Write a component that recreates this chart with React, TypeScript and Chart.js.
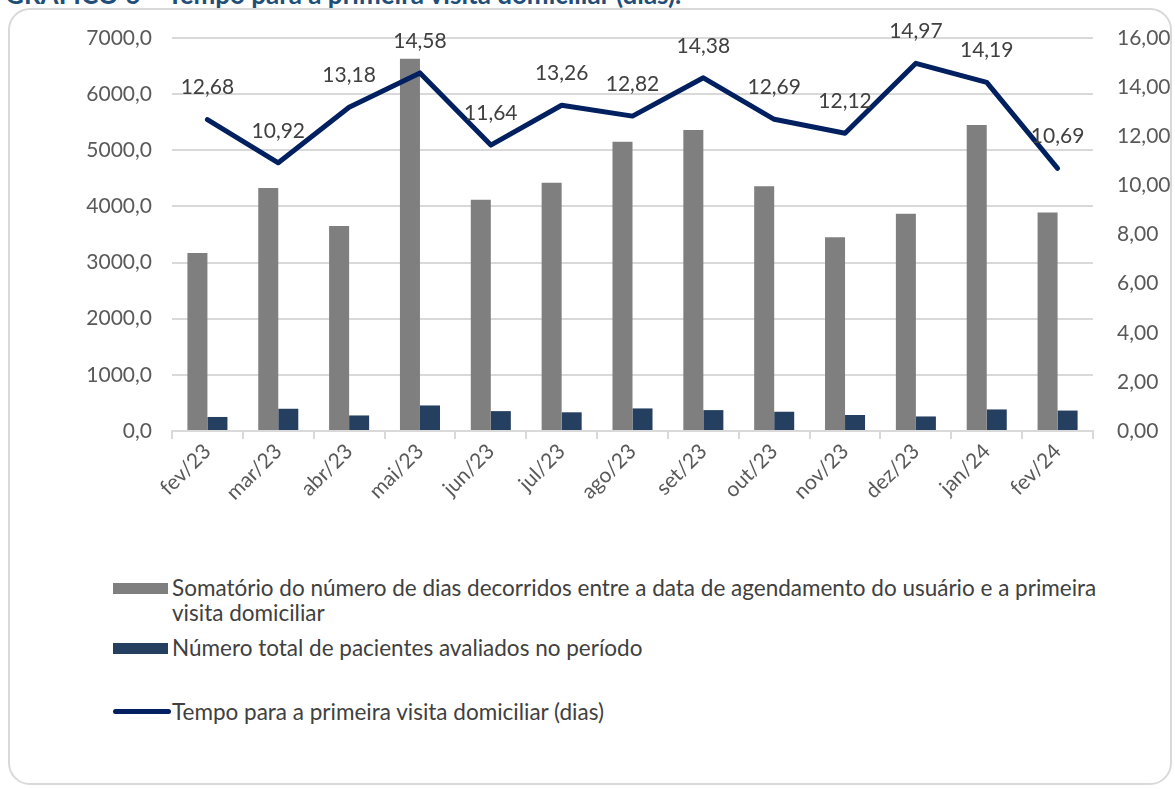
import React, { useEffect, useRef } from "react";
import { Chart, registerables } from "chart.js";

Chart.register(...registerables);

const categories = ["fev/23", "mar/23", "abr/23", "mai/23", "jun/23", "jul/23", "ago/23", "set/23", "out/23", "nov/23", "dez/23", "jan/24", "fev/24"];
const somatorioDias = [3170, 4330, 3650, 6630, 4120, 4420, 5150, 5360, 4360, 3450, 3870, 5450, 3890];
const pacientesAvaliados = [250, 396, 277, 455, 354, 333, 402, 372, 343, 285, 259, 384, 364];
const tempoPrimeiraVisita = [12.68, 10.92, 13.18, 14.58, 11.64, 13.26, 12.82, 14.38, 12.69, 12.12, 14.97, 14.19, 10.69];

const leftAxisMax = 7000;
const leftAxisStep = 1000;
const rightAxisMax = 16;
const rightAxisStep = 2;

const titleText = "GRÁFICO 6 – Tempo para a primeira visita domiciliar (dias).";
const legendSomatorio1 = "Somatório do número de dias decorridos entre a data de agendamento do usuário e a primeira";
const legendSomatorio2 = "visita domiciliar";
const legendPacientes = "Número total de pacientes avaliados no período";
const legendTempo = "Tempo para a primeira visita domiciliar (dias)";

const FONT = "Lato, 'Noto Sans', sans-serif";
const TEXT = "#595959";
const GREY = "#7F7F7F";
const NAVY_BAR = "#243F60";
const NAVY_LINE = "#002060";
const GRID = "#D9D9D9";

const W = 1175;
const H = 560;

const labelPlugin = {
  id: "lineLabels",
  afterDatasetsDraw(chart: any) {
    const ctx = chart.ctx;
    chart.data.datasets.forEach((ds: any, i: number) => {
      if (ds.type !== "line") return;
      const meta = chart.getDatasetMeta(i);
      ctx.save();
      ctx.font = `21px ${FONT}`;
      ctx.fillStyle = "#404040";
      ctx.textAlign = "center";
      ctx.textBaseline = "middle";
      meta.data.forEach((pt: any, j: number) => {
        const v = ds.data[j] as number;
        ctx.fillText(v.toFixed(2).replace(".", ","), pt.x, pt.y - 32);
      });
      ctx.restore();
    });
  },
};

export default function App() {
  const ref = useRef<HTMLCanvasElement | null>(null);

  useEffect(() => {
    if (!ref.current) return;
    const chart = new Chart(ref.current, {
      type: "bar",
      data: {
        labels: categories,
        datasets: [
          {
            type: "line",
            label: legendTempo,
            data: tempoPrimeiraVisita,
            yAxisID: "y1",
            borderColor: NAVY_LINE,
            backgroundColor: NAVY_LINE,
            borderWidth: 5,
            pointRadius: 0,
            tension: 0,
            borderCapStyle: "round",
            borderJoinStyle: "round",
            order: 0,
          } as any,
          {
            type: "bar",
            label: legendSomatorio1 + " " + legendSomatorio2,
            data: somatorioDias,
            yAxisID: "y",
            backgroundColor: GREY,
            barPercentage: 1,
            categoryPercentage: 0.565,
            order: 1,
          },
          {
            type: "bar",
            label: legendPacientes,
            data: pacientesAvaliados,
            yAxisID: "y",
            backgroundColor: NAVY_BAR,
            barPercentage: 1,
            categoryPercentage: 0.565,
            order: 1,
          },
        ],
      },
      options: {
        responsive: false,
        animation: false,
        devicePixelRatio: 1,
        layout: { padding: { top: 38, left: 0, right: 0, bottom: 0 } },
        plugins: {
          legend: { display: false },
          title: { display: false },
          tooltip: { enabled: false },
        },
        scales: {
          x: {
            offset: true,
            grid: {
              display: true,
              drawOnChartArea: false,
              drawTicks: true,
              tickLength: 8,
              color: GRID,
              lineWidth: 2,
              offset: true,
            },
            border: { display: true, color: GRID, width: 2 },
            ticks: {
              color: TEXT,
              font: { family: FONT, size: 21 },
              minRotation: 45,
              maxRotation: 45,
              padding: 0,
              autoSkip: false,
            },
            afterFit(scale: any) {
              scale.height = H - 431;
            },
          },
          y: {
            position: "left",
            min: 0,
            max: leftAxisMax,
            ticks: {
              stepSize: leftAxisStep,
              color: TEXT,
              font: { family: FONT, size: 21 },
              padding: 20,
              callback: (v: any) => Number(v).toFixed(1).replace(".", ","),
            },
            grid: { color: GRID, lineWidth: 2, drawTicks: false },
            border: { display: false },
            afterFit(scale: any) {
              scale.width = 172;
            },
          },
          y1: {
            position: "right",
            min: 0,
            max: rightAxisMax,
            ticks: {
              stepSize: rightAxisStep,
              color: TEXT,
              font: { family: FONT, size: 21 },
              padding: 24,
              callback: (v: any) => Number(v).toFixed(2).replace(".", ","),
            },
            grid: { drawOnChartArea: false, drawTicks: false },
            border: { display: false },
            afterFit(scale: any) {
              scale.width = W - 1093;
            },
          },
        },
      },
      plugins: [labelPlugin],
    });
    return () => chart.destroy();
  }, []);

  const legendText: React.CSSProperties = {
    position: "absolute",
    left: 172,
    fontFamily: FONT,
    fontSize: 22.5,
    color: "#404040",
    whiteSpace: "nowrap",
    lineHeight: "24px",
  };

  return (
    <div style={{ position: "fixed", left: 0, top: 0, width: W, height: 789, overflow: "hidden", background: "#fff" }}>
      <div
        style={{
          position: "absolute",
          left: 5,
          top: -19,
          fontFamily: FONT,
          fontWeight: 700,
          fontSize: 26,
          lineHeight: "26px",
          color: "#1F4E79",
          whiteSpace: "nowrap",
        }}
      >
        {titleText}
      </div>
      <div
        style={{
          position: "absolute",
          left: 8,
          top: 8,
          width: 1164,
          height: 777,
          boxSizing: "border-box",
          border: `2px solid ${GRID}`,
          borderRadius: 22,
        }}
      />
      <canvas ref={ref} width={W} height={H} style={{ position: "absolute", left: 0, top: 0, width: W, height: H }} />
      <div style={{ position: "absolute", left: 113, top: 583, width: 55, height: 11, background: GREY }} />
      <div style={{ ...legendText, top: 576 }}>{legendSomatorio1}</div>
      <div style={{ ...legendText, top: 601 }}>{legendSomatorio2}</div>
      <div style={{ position: "absolute", left: 113, top: 643, width: 55, height: 11, background: NAVY_BAR }} />
      <div style={{ ...legendText, top: 636 }}>{legendPacientes}</div>
      <div style={{ position: "absolute", left: 113, top: 709, width: 58, height: 5, borderRadius: 3, background: NAVY_LINE }} />
      <div style={{ ...legendText, top: 700 }}>{legendTempo}</div>
    </div>
  );
}
